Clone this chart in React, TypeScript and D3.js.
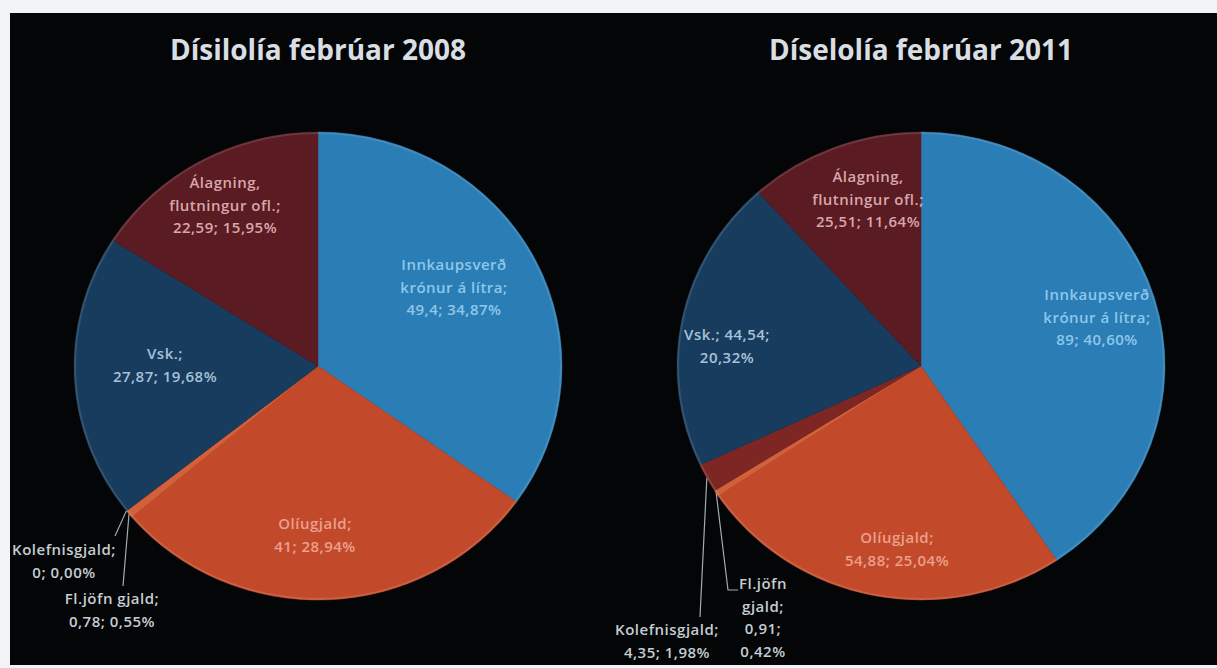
import * as d3 from 'd3'

const width = 1217
const height = 668

const categories = ['Innkaupsverð krónur á lítra', 'Olíugjald', 'Fl.jöfn gjald', 'Kolefnisgjald', 'Vsk.', 'Álagning, flutningur ofl.']
const titles = ['Dísilolía febrúar 2008', 'Díselolía febrúar 2011']
const values2008 = [49.4, 41, 0.78, 0, 27.87, 22.59]
const percent2008 = ['34,87%', '28,94%', '0,55%', '0,00%', '19,68%', '15,95%']
const values2011 = [89, 54.88, 0.91, 4.35, 44.54, 25.51]
const percent2011 = ['40,60%', '25,04%', '0,42%', '1,98%', '20,32%', '11,64%']

// words per line for every label
const wrap2008 = [[1, 3, 2], [1, 2], [2, 2], [1, 2], [1, 2], [1, 2, 2]]
const wrap2011 = [[1, 3, 2], [1, 2], [1, 1, 1, 1], [1, 2], [2, 1], [1, 2, 2]]

const sliceColors = ['#2a7eb5', '#c24a2b', '#d2603a', '#7e2624', '#173c5d', '#5b1b23']
const labelColors = ['#8fc7ea', '#eba08d', '#c5cdd2', '#c5cdd2', '#a8c1d9', '#d8a7ab']

const layout = [
  {
    cx: 318, cy: 366,
    labels: [[454, 265], [315, 524], [112, 599], [64, 550], [165, 354], [225, 183]],
    leaders: { 2: [[123, 586]], 3: [[115, 536]] } as Record<number, number[][]>,
  },
  {
    cx: 921, cy: 366,
    labels: [[1097, 295], [897, 538], [763, 584], [667, 630], [727, 335], [868, 177]],
    leaders: { 2: [[728, 590], [738, 590]], 3: [[700, 617]] } as Record<number, number[][]>,
  },
]

const ry = 234
const rx = 244
const lineH = 22.5

const fmt = (v: number) => String(v).replace('.', ',')

function Pie({ values, percents, wrap, lay, title }: any) {
  const pie = d3.pie<number>().value(d => d).sort(null)
  const arcs = pie(values)
  const arc = d3.arc<d3.PieArcDatum<number>>().innerRadius(0).outerRadius(ry)
  const sx = rx / ry

  const edgePoint = (a: d3.PieArcDatum<number>) => {
    const m = (a.startAngle + a.endAngle) / 2
    return [lay.cx + Math.sin(m) * rx, lay.cy - Math.cos(m) * ry]
  }

  return (
    <g>
      <text x={lay.cx} y={60} textAnchor="middle" fontFamily="Open Sans" fontWeight={700} fontSize={28} fill="#d9dee2">
        {title}
      </text>
      <g transform={`translate(${lay.cx},${lay.cy}) scale(${sx},1)`}>
        {arcs.map((a, i) => (
          <path key={i} d={arc(a) || ''} fill={sliceColors[i]} stroke={sliceColors[i]} strokeWidth={0.5} />
        ))}
        <circle r={ry - 1} fill="none" stroke="rgba(255,255,255,0.12)" strokeWidth={2} />
      </g>
      {Object.keys(lay.leaders).map(k => {
        const i = +k
        const pts = [edgePoint(arcs[i]), ...lay.leaders[i]]
        return <path key={k} d={d3.line()(pts as [number, number][]) || ''} fill="none" stroke="#a3acb2" strokeWidth={1.2} />
      })}
      {arcs.map((a, i) => {
        const words = `${categories[i]}; ${fmt(values[i])}; ${percents[i]}`.split(' ')
        const lines: string[] = []
        let w = 0
        wrap[i].forEach((n: number) => {
          lines.push(words.slice(w, w + n).join(' '))
          w += n
        })
        const [lx, ly] = lay.labels[i]
        return (
          <text key={i} textAnchor="middle" fontFamily="Open Sans" fontWeight={600} fontSize={15} letterSpacing={0.5} fill={labelColors[i]}>
            {lines.map((t, j) => (
              <tspan key={j} x={lx} y={ly + 5 + j * lineH}>{t}</tspan>
            ))}
          </text>
        )
      })}
    </g>
  )
}

export default function App() {
  return (
    <svg width={width} height={height} style={{ position: 'absolute', left: 0, top: 0 }}>
      <rect width={width} height={height} fill="#f2f3f5" />
      <rect x={10} y={13} width={width - 10} height={652} fill="#030507" />
      <Pie values={values2008} percents={percent2008} wrap={wrap2008} lay={layout[0]} title={titles[0]} />
      <Pie values={values2011} percents={percent2011} wrap={wrap2011} lay={layout[1]} title={titles[1]} />
    </svg>
  )
}
